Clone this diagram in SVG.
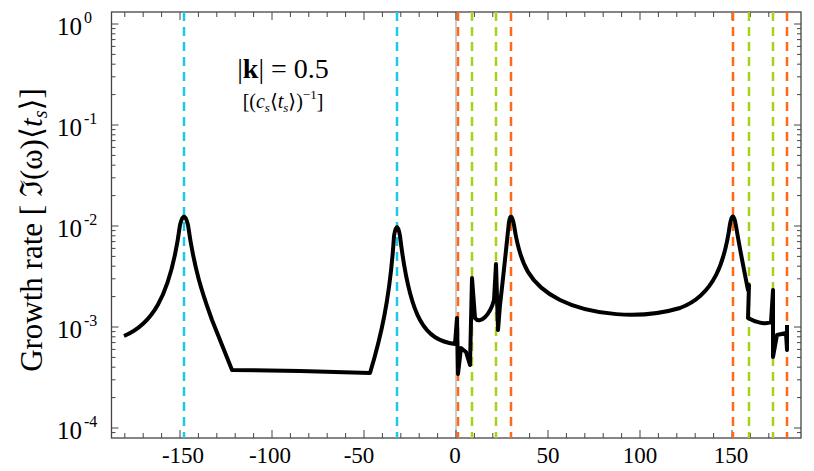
<svg xmlns="http://www.w3.org/2000/svg" width="814" height="471" viewBox="0 0 814 471">
<style>
.ax{fill:none;stroke:#444;stroke-width:1.3}
.tk{fill:none;stroke:#444;stroke-width:1}
.dc{stroke:#1ec8e6;stroke-width:2.5;stroke-dasharray:9 6;fill:none}
.do{stroke:#ff6a1a;stroke-width:2.5;stroke-dasharray:9 6;fill:none}
.dg{stroke:#a6d31a;stroke-width:2.5;stroke-dasharray:9 6;fill:none}
.xl{font-size:23px;text-anchor:middle}
.yl{font-size:25px;text-anchor:end}
.ys{font-size:16px}
</style>
<rect width="814" height="471" fill="#fff"/>
<g id="axes" font-family="Liberation Serif, Times New Roman, DejaVu Serif, serif" fill="#000">
<line x1="456" y1="12" x2="456" y2="438" stroke="#aaa" stroke-width="1.2"/>
<rect class="ax" x="111.5" y="12" width="689.5" height="426"/>
<path class="tk" d="M111.5 24h7M111.5 125h7M111.5 226h7M111.5 327h7M111.5 428h7
M111.5 94.6h4M111.5 76.8h4M111.5 64.2h4M111.5 54.4h4M111.5 46.4h4M111.5 39.6h4M111.5 33.8h4M111.5 28.6h4
M111.5 195.6h4M111.5 177.8h4M111.5 165.2h4M111.5 155.4h4M111.5 147.4h4M111.5 140.6h4M111.5 134.8h4M111.5 129.6h4
M111.5 296.6h4M111.5 278.8h4M111.5 266.2h4M111.5 256.4h4M111.5 248.4h4M111.5 241.6h4M111.5 235.8h4M111.5 230.6h4
M111.5 397.6h4M111.5 379.8h4M111.5 367.2h4M111.5 357.4h4M111.5 349.4h4M111.5 342.6h4M111.5 336.8h4M111.5 331.6h4M111.5 432.6h4
M801 24h-7M801 125h-7M801 226h-7M801 327h-7M801 428h-7
M801 94.6h-4M801 76.8h-4M801 64.2h-4M801 54.4h-4M801 46.4h-4M801 39.6h-4M801 33.8h-4M801 28.6h-4
M801 195.6h-4M801 177.8h-4M801 165.2h-4M801 155.4h-4M801 147.4h-4M801 140.6h-4M801 134.8h-4M801 129.6h-4
M801 296.6h-4M801 278.8h-4M801 266.2h-4M801 256.4h-4M801 248.4h-4M801 241.6h-4M801 235.8h-4M801 230.6h-4
M801 397.6h-4M801 379.8h-4M801 367.2h-4M801 357.4h-4M801 349.4h-4M801 342.6h-4M801 336.8h-4M801 331.6h-4M801 432.6h-4
M180 438v-8M272 438v-8M364 438v-8M456 438v-8M548 438v-8M640 438v-8M732 438v-8
M180 12v8M272 12v8M364 12v8M456 12v8M548 12v8M640 12v8M732 12v8
M124.8 438v-5M143.2 438v-5M161.6 438v-5M198.4 438v-5M216.8 438v-5M235.2 438v-5M253.6 438v-5M290.4 438v-5M308.8 438v-5M327.2 438v-5M345.6 438v-5M382.4 438v-5M400.8 438v-5M419.2 438v-5M437.6 438v-5M474.4 438v-5M492.8 438v-5M511.2 438v-5M529.6 438v-5M566.4 438v-5M584.8 438v-5M603.2 438v-5M621.6 438v-5M658.4 438v-5M676.8 438v-5M695.2 438v-5M713.6 438v-5M750.4 438v-5M768.8 438v-5M787.2 438v-5
M124.8 12v5M143.2 12v5M161.6 12v5M198.4 12v5M216.8 12v5M235.2 12v5M253.6 12v5M290.4 12v5M308.8 12v5M327.2 12v5M345.6 12v5M382.4 12v5M400.8 12v5M419.2 12v5M437.6 12v5M474.4 12v5M492.8 12v5M511.2 12v5M529.6 12v5M566.4 12v5M584.8 12v5M603.2 12v5M621.6 12v5M658.4 12v5M676.8 12v5M695.2 12v5M713.6 12v5M750.4 12v5M768.8 12v5M787.2 12v5"/>
<text class="xl" x="183" y="463">-150</text>
<text class="xl" x="270" y="463">-100</text>
<text class="xl" x="359" y="463">-50</text>
<text class="xl" x="455" y="463">0</text>
<text class="xl" x="548" y="463">50</text>
<text class="xl" x="640" y="463">100</text>
<text class="xl" x="731" y="463">150</text>
<text class="yl" x="82" y="35">10</text><text class="ys" x="84" y="23">0</text>
<text class="yl" x="82" y="136">10</text><text class="ys" x="84" y="124">-1</text>
<text class="yl" x="82" y="237">10</text><text class="ys" x="84" y="225">-2</text>
<text class="yl" x="82" y="338">10</text><text class="ys" x="84" y="326">-3</text>
<text class="yl" x="82" y="439">10</text><text class="ys" x="84" y="427">-4</text>
<text x="42" y="230" font-size="31" text-anchor="middle" transform="rotate(-90 42 230)">Growth rate [ ℑ(ω)⟨<tspan font-style="italic">t</tspan><tspan font-size="20" font-style="italic" dy="5">s</tspan><tspan dy="-5">⟩]</tspan></text>
<text x="283" y="78" font-size="28" text-anchor="middle">|<tspan font-weight="bold">k</tspan>| = 0.5</text>
<text x="283" y="108" font-size="20" text-anchor="middle">[(<tspan font-style="italic">c</tspan><tspan font-size="13" font-style="italic" dy="4">s</tspan><tspan dy="-4">⟨</tspan><tspan font-style="italic">t</tspan><tspan font-size="13" font-style="italic" dy="4">s</tspan><tspan dy="-4">⟩)</tspan><tspan font-size="13" dy="-9">−1</tspan><tspan dy="9">]</tspan></text>
</g>
<g id="connectors">
<path class="dc" d="M184 12V438M397 12V438"/>
<path class="do" d="M458 12V438M511 12V438M733 12V438M787 12V438"/>
<path class="dg" d="M472 12V438M496 12V438M749 12V438M773 12V438"/>
<path d="M124 336 C150 325,170 300,180 225 Q184 208,188 225 C195 275,205 300,212 320 L232 370 L300 371 L370 373 C380 340,390 300,394 236 Q397 218,400 236 C410 320,425 340,455 344 L457 318 L458 374 L461 348 L466 352 L470 365 L472 278 L475 318 C480 325,490 315,494 300 L496 264 L498 330 L500 305 C503 280,507 240,509 222 Q511 210,514 225 C520 265,530 285,560 300 C590 315,640 320,680 308 C715 295,725 260,730 224 Q733 208,736 226 C740 250,744 270,748 290 L749 285 L748 318 C755 322,765 325,771 322 L773 290 L773 357 L777 335 L786 333 L787 350 L787 325" fill="none" stroke="#000" stroke-width="4" stroke-linejoin="round"/>
</g>
</svg>
